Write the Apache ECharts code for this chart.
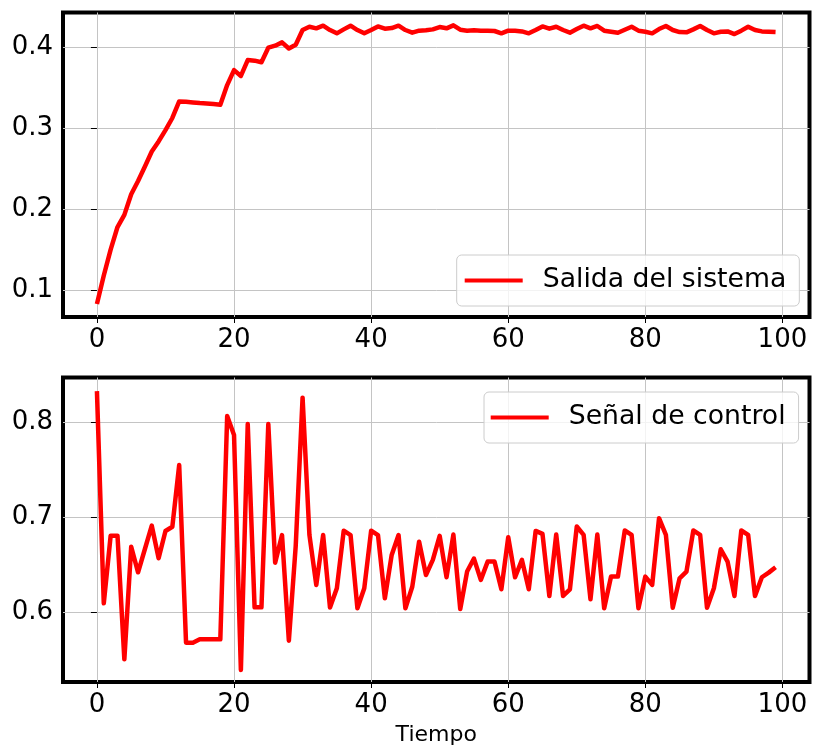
<!DOCTYPE html>
<html>
<head>
<meta charset="utf-8">
<script src="https://cdn.jsdelivr.net/npm/echarts@6/dist/echarts.min.js"></script>
<style>
  html, body { margin: 0; padding: 0; background: #fff; }
  #chart { width: 817px; height: 749px; }
</style>
</head>
<body>
<div id="chart"></div>
<script>
// Time steps of the simulation
const tiempo = Array.from({ length: 100 }, (_, i) => i);

// System output (upper panel)
const salidaSistema = [
  0.0826, 0.118, 0.150, 0.178, 0.193, 0.2186, 0.235, 0.253, 0.2715, 0.284,
  0.298, 0.313, 0.3335, 0.333, 0.3322, 0.3315, 0.331, 0.3303, 0.3295, 0.3537,
  0.3723, 0.365, 0.3847, 0.384, 0.382, 0.400, 0.4025, 0.4066, 0.399, 0.4037,
  0.4219, 0.426, 0.4240, 0.4273, 0.4219, 0.4178, 0.4227, 0.4273, 0.4219, 0.4178,
  0.4219, 0.4264, 0.4236, 0.4244, 0.4273, 0.4219, 0.4186, 0.4211, 0.4215, 0.4227,
  0.4256, 0.424, 0.4277, 0.4223, 0.4211, 0.4215, 0.4211, 0.4211, 0.4207, 0.4178,
  0.4211, 0.4211, 0.4202, 0.4178, 0.4219, 0.4264, 0.4236, 0.426, 0.4219, 0.4186,
  0.4231, 0.4273, 0.424, 0.4269, 0.4211, 0.4198, 0.4186, 0.4223, 0.426, 0.4211,
  0.4198, 0.4178, 0.4231, 0.4269, 0.4219, 0.4194, 0.419, 0.4227, 0.4269, 0.4219,
  0.4178, 0.4198, 0.4202, 0.4169, 0.4211, 0.426, 0.4219, 0.4202, 0.4198, 0.4194
];

// Control signal (lower panel)
const senalControl = [
  0.8334, 0.6095, 0.6808, 0.6808, 0.5504, 0.6692, 0.6422, 0.6668, 0.6914, 0.657,
  0.6858, 0.6903, 0.7554, 0.568, 0.568, 0.5715, 0.5715, 0.5715, 0.5715, 0.807,
  0.787, 0.5392, 0.7986, 0.6053, 0.6053, 0.7986, 0.6524, 0.6815, 0.5701, 0.67,
  0.8264, 0.6815, 0.6288, 0.6815, 0.605, 0.6253, 0.6861, 0.6815, 0.6042, 0.6253,
  0.6861, 0.6815, 0.6148, 0.6605, 0.6815, 0.6042, 0.627, 0.6745, 0.6394, 0.6553,
  0.6806, 0.637, 0.682, 0.6035, 0.643, 0.6567, 0.6342, 0.6535, 0.6535, 0.6243,
  0.6792, 0.637, 0.6553, 0.6243, 0.6859, 0.6827, 0.6173, 0.682, 0.6173, 0.6243,
  0.6905, 0.6817, 0.6137, 0.682, 0.6042, 0.6377, 0.6377, 0.6863, 0.6817, 0.6042,
  0.6377, 0.6289, 0.6993, 0.6817, 0.6049, 0.6359, 0.643, 0.6863, 0.6817, 0.6049,
  0.6254, 0.6665, 0.6535, 0.6173, 0.6863, 0.6817, 0.6173, 0.637, 0.6419, 0.6475
];

// Tick positions
const xTicks = [0, 20, 40, 60, 80, 100];
const yTicksSalida = [0.1, 0.2, 0.3, 0.4];
const yTicksControl = [0.6, 0.7, 0.8];

const FONT = 'DejaVu Sans';
const RED = '#ff0000';

const pairs = (ys) => tiempo.map((t, i) => [t, ys[i]]);

function xAxisFor(gridIndex, extra) {
  return Object.assign({
    type: 'value',
    gridIndex,
    min: -4.95,
    max: 103.95,
    axisLine: { show: false },
    axisTick: { show: true, customValues: xTicks, length: 6, lineStyle: { color: '#000', width: 1 } },
    axisLabel: { customValues: xTicks, fontSize: 26, fontFamily: FONT, color: '#000', margin: 10 },
    splitLine: { show: true, lineStyle: { color: '#c4c4c4', width: 1 } }
  }, extra || {});
}

function yAxisFor(gridIndex, min, max, ticks) {
  return {
    type: 'value',
    gridIndex,
    min, max,
    axisLine: { show: false },
    axisTick: { show: true, customValues: ticks, length: 6, lineStyle: { color: '#000', width: 1 } },
    axisLabel: { customValues: ticks, fontSize: 26, fontFamily: FONT, color: '#000', margin: 10 },
    splitLine: { show: true, lineStyle: { color: '#c4c4c4', width: 1 } }
  };
}

// Legend icon: a short thick line followed by a blank gap before the text
const legendIcon = 'path://M0,0H58V4H0Z M73,0L73,4';

function legendFor(name, left, top, padding) {
  return {
    data: [name],
    left, top,
    orient: 'horizontal',
    padding,
    icon: legendIcon,
    itemWidth: 73,
    itemHeight: 4,
    textStyle: { fontSize: 26.7, fontFamily: FONT, color: '#000' },
    backgroundColor: 'rgba(255,255,255,0.8)',
    borderColor: '#cccccc',
    borderWidth: 1,
    borderRadius: 5,
    selectedMode: false
  };
}

const chart = echarts.init(document.getElementById('chart'), null, { renderer: 'canvas' });

chart.setOption({
  animation: false,
  backgroundColor: '#fff',
  grid: [
    { left: 63, right: 7.5, top: 12.5, height: 304.5, show: true, borderColor: '#000', borderWidth: 4, backgroundColor: 'transparent' },
    { left: 63, right: 7.5, top: 377.5, height: 304.5, show: true, borderColor: '#000', borderWidth: 4, backgroundColor: 'transparent' }
  ],
  xAxis: [
    xAxisFor(0),
    xAxisFor(1, {
      name: 'Tiempo',
      nameLocation: 'middle',
      nameGap: 42,
      nameTextStyle: { fontSize: 22, fontFamily: FONT, color: '#000' }
    })
  ],
  yAxis: [
    yAxisFor(0, 0.0666, 0.4436, yTicksSalida),
    yAxisFor(1, 0.5265, 0.8477, yTicksControl)
  ],
  legend: [
    legendFor('Salida del sistema', 456.7, 255, [12, 13, 12, 8]),
    legendFor('Señal de control', 484, 392, [12, 13, 12, 6.7])
  ],
  series: [
    {
      name: 'Salida del sistema',
      type: 'line',
      xAxisIndex: 0, yAxisIndex: 0,
      data: pairs(salidaSistema),
      showSymbol: false,
      color: RED,
      lineStyle: { color: RED, width: 4.5, join: 'round' }
    },
    {
      name: 'Señal de control',
      type: 'line',
      xAxisIndex: 1, yAxisIndex: 1,
      data: pairs(senalControl),
      showSymbol: false,
      color: RED,
      lineStyle: { color: RED, width: 4.5, join: 'round' }
    }
  ]
});
</script>
</body>
</html>
